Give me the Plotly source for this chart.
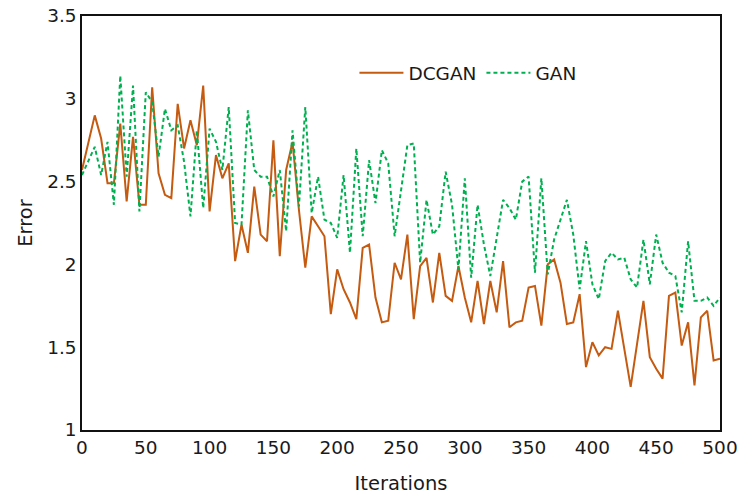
import plotly.graph_objects as go

iterations = list(range(0, 505, 5))

dcgan = [
    2.57, 2.74, 2.90, 2.76, 2.49, 2.49, 2.85, 2.38, 2.77, 2.36,
    2.36, 3.07, 2.55, 2.42, 2.40, 2.97, 2.70, 2.87, 2.72, 3.08,
    2.32, 2.66, 2.52, 2.61, 2.02, 2.24, 2.07, 2.47, 2.18, 2.14,
    2.75, 2.05, 2.57, 2.74, 2.33, 1.98, 2.29, 2.23, 2.17, 1.70,
    1.97, 1.85, 1.77, 1.67, 2.10, 2.12, 1.80, 1.65, 1.66, 2.01,
    1.91, 2.18, 1.67, 1.99, 2.04, 1.77, 2.07, 1.81, 1.78, 1.99,
    1.80, 1.65, 1.90, 1.64, 1.90, 1.71, 2.02, 1.62, 1.65, 1.66,
    1.86, 1.87, 1.63, 2.00, 2.03, 1.89, 1.64, 1.65, 1.82, 1.38,
    1.53, 1.45, 1.50, 1.49, 1.72, 1.49, 1.26, 1.52, 1.78, 1.44,
    1.37, 1.31, 1.81, 1.83, 1.51, 1.65, 1.27, 1.68, 1.72, 1.42,
    1.43,
]

gan = [
    2.54, 2.63, 2.71, 2.54, 2.74, 2.36, 3.14, 2.53, 3.08, 2.32,
    3.04, 2.98, 2.65, 2.94, 2.81, 2.84, 2.62, 2.29, 2.81, 2.34,
    2.82, 2.74, 2.57, 2.95, 2.25, 2.24, 2.93, 2.57, 2.53, 2.53,
    2.41, 2.57, 2.20, 2.81, 2.35, 2.95, 2.31, 2.53, 2.27, 2.25,
    2.16, 2.54, 2.07, 2.70, 2.17, 2.63, 2.37, 2.69, 2.61, 2.17,
    2.44, 2.72, 2.73, 2.01, 2.39, 2.18, 2.23, 2.56, 2.36, 1.97,
    2.52, 1.92, 2.36, 2.12, 1.93, 2.17, 2.39, 2.34, 2.27, 2.50,
    2.53, 1.95, 2.52, 1.94, 2.15, 2.27, 2.39, 2.18, 1.85, 2.14,
    1.88, 1.79, 2.02, 2.07, 2.03, 2.04, 1.91, 1.86, 2.15, 1.88,
    2.18, 2.01, 1.95, 1.93, 1.71, 2.14, 1.78, 1.78, 1.80, 1.75,
    1.80,
]

x_ticks = [0, 50, 100, 150, 200, 250, 300, 350, 400, 450, 500]
y_ticks = [1, 1.5, 2, 2.5, 3, 3.5]
y_tick_text = ["1", "1.5", "2", "2.5", "3", "3.5"]

FONT = "DejaVu Sans"
TXT = "#1a1a1a"

fig = go.Figure()
fig.add_trace(go.Scatter(
    x=iterations, y=dcgan, mode="lines", name="DCGAN",
    line=dict(color="#C55A11", width=2),
))
fig.add_trace(go.Scatter(
    x=iterations, y=gan, mode="lines", name="GAN",
    line=dict(color="#00B050", width=2, dash="4px,3px"),
))

fig.update_layout(
    width=741, height=495,
    margin=dict(l=82, r=21, t=16, b=65),
    paper_bgcolor="white", plot_bgcolor="white",
    font=dict(family=FONT, size=18, color=TXT),
    showlegend=True,
    legend=dict(
        orientation="h", x=0.427, y=0.862, xanchor="left", yanchor="middle",
        font=dict(family=FONT, size=18.5, color=TXT),
        bgcolor="rgba(0,0,0,0)", itemwidth=44,
    ),
    xaxis=dict(
        range=[0, 500], tickvals=x_ticks, showgrid=False, zeroline=False,
        showline=True, linecolor="#111", linewidth=1.5, mirror=True,
        ticks="", tickfont=dict(size=18.5), automargin=False,
        ticklabeloverflow="allow",
        title=dict(text="Iterations", font=dict(size=19.5), standoff=33),
    ),
    yaxis=dict(
        range=[1, 3.5], tickvals=y_ticks, ticktext=y_tick_text,
        showgrid=False, zeroline=False,
        showline=True, linecolor="#111", linewidth=1.5, mirror=True,
        ticks="", tickfont=dict(size=18.5), automargin=False,
        ticklabeloverflow="allow",
        title=dict(text="Error", font=dict(size=19.5), standoff=9),
    ),
)

# remove the browser's default 8px page margin so the figure sits at the window origin
fig.write_html(
    "out.html",
    config={"displayModeBar": False},
    post_script="document.body.style.margin='0';",
)
